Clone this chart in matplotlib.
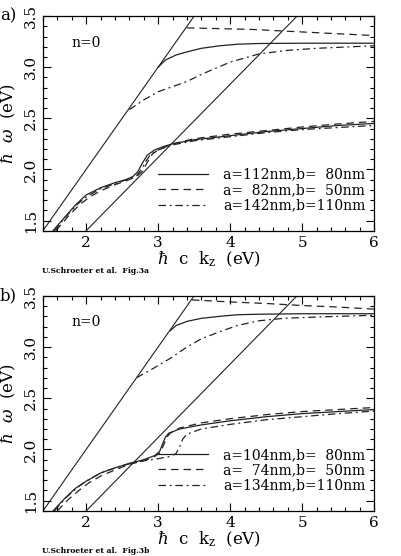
import matplotlib

matplotlib.use("Agg")
import matplotlib.pyplot as plt
from matplotlib.ticker import MultipleLocator

plt.rcParams["font.family"] = ["DejaVu Serif"]
plt.rcParams["mathtext.fontset"] = "dejavuserif"

# light lines (hbar*omega = hbar*c*k  and  hbar*c*k / n)
light1_x = [1.4, 3.5]
light1_y = [1.4, 3.5]
light2_x = [2.0, 4.93]
light2_y = [1.4, 3.5]

# ---- panel a ----
a_labels = ["a=112nm,b=  80nm", "a=  82nm,b=  50nm", "a=142nm,b=110nm"]

a_up_solid_x = [3.0, 3.1, 3.25, 3.4, 3.6, 3.86, 4.1, 4.39, 5.0, 6.0]
a_up_solid_y = [3.0, 3.07, 3.12, 3.15, 3.185, 3.21, 3.225, 3.232, 3.235, 3.235]
a_up_dash_x = [3.4, 4.3, 5.0, 6.0]
a_up_dash_y = [3.385, 3.37, 3.345, 3.31]
a_up_dd_x = [2.6, 2.8, 3.0, 3.2, 3.4, 3.6, 3.8, 4.0, 4.4, 4.8, 5.2, 6.0]
a_up_dd_y = [2.585, 2.68, 2.76, 2.81, 2.86, 2.93, 2.99, 3.05, 3.13, 3.165, 3.185, 3.21]

a_lo_solid_x = [1.54, 1.7, 1.85, 2.0, 2.2, 2.4, 2.55, 2.65, 2.72, 2.78, 2.85, 2.95, 3.1, 3.2, 3.5, 4.0, 4.5, 5.0, 5.5, 6.0]
a_lo_solid_y = [1.40, 1.53, 1.65, 1.75, 1.82, 1.87, 1.90, 1.93, 1.98, 2.06, 2.14, 2.19, 2.23, 2.25, 2.29, 2.33, 2.37, 2.40, 2.43, 2.45]
a_lo_dash_x = [1.58, 1.75, 1.9, 2.05, 2.2, 2.4, 2.6, 2.7, 2.78, 2.85, 2.92, 3.0, 3.2, 3.5, 4.0, 4.5, 5.0, 5.5, 6.0]
a_lo_dash_y = [1.40, 1.54, 1.65, 1.73, 1.79, 1.85, 1.90, 1.93, 1.98, 2.07, 2.15, 2.19, 2.25, 2.30, 2.345, 2.38, 2.415, 2.445, 2.47]
a_lo_dd_x = [1.56, 1.72, 1.88, 2.0, 2.2, 2.4, 2.6, 2.7, 2.77, 2.83, 2.9, 3.0, 3.2, 3.5, 4.0, 4.5, 5.0, 5.5, 6.0]
a_lo_dd_y = [1.40, 1.54, 1.66, 1.73, 1.81, 1.86, 1.91, 1.94, 2.00, 2.08, 2.15, 2.19, 2.24, 2.28, 2.32, 2.36, 2.39, 2.41, 2.43]

# ---- panel b ----
b_labels = ["a=104nm,b=  80nm", "a=  74nm,b=  50nm", "a=134nm,b=110nm"]

b_up_solid_x = [3.17, 3.25, 3.4, 3.6, 3.86, 4.1, 4.39, 5.0, 6.0]
b_up_solid_y = [3.16, 3.21, 3.25, 3.28, 3.30, 3.315, 3.32, 3.325, 3.325]
b_up_dash_x = [3.47, 4.0, 4.5, 5.0, 5.5, 6.0]
b_up_dash_y = [3.46, 3.44, 3.425, 3.405, 3.39, 3.37]
b_up_dd_x = [2.7, 2.93, 3.17, 3.4, 3.6, 3.86, 4.1, 4.39, 4.74, 5.3, 6.0]
b_up_dd_y = [2.70, 2.79, 2.89, 3.00, 3.08, 3.15, 3.21, 3.255, 3.28, 3.295, 3.31]

b_lo_solid_x = [1.54, 1.7, 1.85, 2.0, 2.2, 2.4, 2.6, 2.8, 2.95, 3.02, 3.06, 3.1, 3.15, 3.3, 3.6, 4.0, 4.5, 5.0, 5.5, 6.0]
b_lo_solid_y = [1.40, 1.52, 1.62, 1.69, 1.77, 1.82, 1.865, 1.90, 1.94, 1.98, 2.05, 2.12, 2.16, 2.20, 2.24, 2.28, 2.32, 2.35, 2.37, 2.39]
b_lo_dash_x = [1.60, 1.75, 1.9, 2.05, 2.2, 2.4, 2.6, 2.8, 2.95, 3.03, 3.08, 3.12, 3.17, 3.3, 3.6, 4.0, 4.5, 5.0, 5.5, 6.0]
b_lo_dash_y = [1.40, 1.51, 1.60, 1.68, 1.74, 1.80, 1.855, 1.89, 1.93, 1.97, 2.05, 2.12, 2.16, 2.21, 2.26, 2.30, 2.34, 2.37, 2.39, 2.41]
b_lo_dd_x = [1.56, 1.72, 1.88, 2.0, 2.2, 2.4, 2.6, 2.8, 3.0, 3.15, 3.25, 3.3, 3.34, 3.4, 3.6, 4.0, 4.5, 5.0, 5.5, 6.0]
b_lo_dd_y = [1.40, 1.53, 1.63, 1.69, 1.77, 1.82, 1.86, 1.89, 1.91, 1.93, 1.96, 2.03, 2.10, 2.15, 2.20, 2.245, 2.29, 2.32, 2.35, 2.375]

LC = "#222222"
LW = 0.9
styles = ["-", (0, (6, 4)), (0, (6, 3, 1.5, 3))]

fig = plt.figure(figsize=(4.01, 5.56), dpi=100)
ax_a = fig.add_axes([0.107, 0.585, 0.826, 0.386])
ax_b = fig.add_axes([0.107, 0.081, 0.826, 0.387])

panels = [
    (ax_a, "a)", a_labels,
     [(a_up_solid_x, a_up_solid_y, a_lo_solid_x, a_lo_solid_y),
      (a_up_dash_x, a_up_dash_y, a_lo_dash_x, a_lo_dash_y),
      (a_up_dd_x, a_up_dd_y, a_lo_dd_x, a_lo_dd_y)],
     "U.Schroeter et al.  Fig.3a", 0.505),
    (ax_b, "b)", b_labels,
     [(b_up_solid_x, b_up_solid_y, b_lo_solid_x, b_lo_solid_y),
      (b_up_dash_x, b_up_dash_y, b_lo_dash_x, b_lo_dash_y),
      (b_up_dd_x, b_up_dd_y, b_lo_dd_x, b_lo_dd_y)],
     "U.Schroeter et al.  Fig.3b", 0.001),
]

for ax, tag, labels, series, footer, fy in panels:
    ax.plot(light1_x, light1_y, color=LC, lw=0.8)
    ax.plot(light2_x, light2_y, color=LC, lw=0.8)
    for (ux, uy, lx, ly), ls, lab in zip(series, styles, labels):
        ax.plot(ux, uy, color=LC, lw=LW, linestyle=ls)
        ax.plot(lx, ly, color=LC, lw=LW, linestyle=ls, label=lab)

    ax.set_xlim(1.4, 6)
    ax.set_ylim(1.4, 3.5)
    ax.xaxis.set_major_locator(MultipleLocator(1))
    ax.xaxis.set_minor_locator(MultipleLocator(0.2))
    ax.yaxis.set_major_locator(MultipleLocator(0.5))
    ax.yaxis.set_minor_locator(MultipleLocator(0.1))
    ax.tick_params(which="both", direction="in", top=True, right=True, width=0.8, labelsize=11)
    ax.tick_params(which="major", length=6)
    ax.tick_params(which="minor", length=3)
    for lab in ax.get_yticklabels():
        lab.set_rotation(90)
        lab.set_va("center")
    ax.set_xlabel(r"$\hbar$  c  k$_{\rm z}$  (eV)", fontsize=12, labelpad=0)
    ax.set_ylabel(r"$\hbar$  $\omega$  (eV)", fontsize=12, labelpad=4)
    for sp in ax.spines.values():
        sp.set_linewidth(0.9)

    ax.text(1.8, 3.24, "n=0", fontsize=10, va="center")
    ax.text(-0.13, 1.0, tag, transform=ax.transAxes, fontsize=12, va="center")

    leg = ax.legend(loc="lower right", bbox_to_anchor=(0.975, 0.085), frameon=False,
                    fontsize=10, handlelength=3.6, handletextpad=1.15, labelspacing=0.1,
                    borderaxespad=0, borderpad=0, alignment="right")
    for t in leg.get_texts():
        t.set_ha("right")

    fig.text(0.105, fy, footer, fontsize=5.5, fontweight="bold", va="bottom")

plt.savefig("out.png", dpi=100)
